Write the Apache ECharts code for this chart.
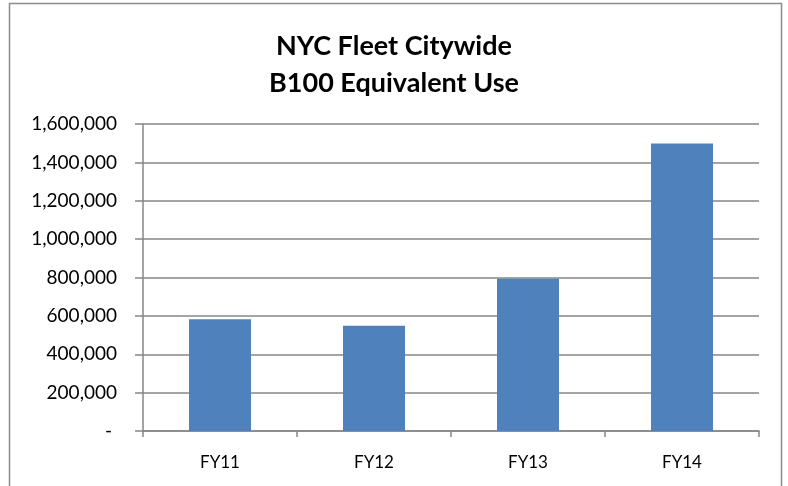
<!DOCTYPE html>
<html>
<head>
    <meta charset="utf-8">
    <title>NYC Fleet Citywide</title>
    <script src="https://cdn.jsdelivr.net/npm/echarts@6/dist/echarts.min.js"></script>
    <style>
        html, body { margin: 0; padding: 0; background: #fff; }
        #chart { width: 788px; height: 486px; }
    </style>
</head>
<body>
<div id="chart"></div>
<script>
    // data
    var years = ['FY11', 'FY12', 'FY13', 'FY14'];
    var b100Use = [583000, 548000, 793000, 1499000];
    var yTicks = [0, 200000, 400000, 600000, 800000, 1000000, 1200000, 1400000, 1600000];

    var myChart = echarts.init(document.getElementById('chart'));

    function fmt(v) {
        if (v === 0) return '- ';
        return v.toString().replace(/\B(?=(\d{3})+(?!\d))/g, ',');
    }

    var option = {
        backgroundColor: '#fff',
        animation: false,
        graphic: [{
            type: 'rect',
            shape: { x: 9.5, y: 3.5, width: 772, height: 500 },
            style: { fill: 'none', stroke: '#8c8c8c', lineWidth: 1.5 },
            silent: true
        }],
        title: {
            text: 'NYC Fleet Citywide\nB100 Equivalent Use',
            left: 'center',
            top: 23,
            textStyle: {
                fontFamily: 'Lato',
                fontWeight: 'bold',
                fontSize: 27,
                lineHeight: 37,
                color: '#000'
            }
        },
        grid: { left: 143, right: 29, top: 124, bottom: 55 },
        xAxis: {
            type: 'category',
            data: years,
            axisLine: { lineStyle: { color: '#868686', width: 1.5 } },
            axisTick: { show: true, length: 6, lineStyle: { color: '#868686', width: 1.5 } },
            axisLabel: { color: '#000', fontFamily: 'Lato', fontSize: 17, margin: 23 }
        },
        yAxis: {
            type: 'value',
            min: yTicks[0],
            max: yTicks[yTicks.length - 1],
            interval: yTicks[1] - yTicks[0],
            axisLine: { show: true, lineStyle: { color: '#868686', width: 1.5 } },
            axisTick: { show: true, length: 8, lineStyle: { color: '#868686', width: 1.5 } },
            splitLine: { lineStyle: { color: '#868686', width: 1.5 } },
            axisLabel: { color: '#000', fontFamily: 'Lato', fontSize: 19, margin: 26, formatter: fmt }
        },
        series: [{
            type: 'bar',
            data: b100Use,
            barWidth: 62,
            itemStyle: { color: '#4f81bd' }
        }]
    };

    myChart.setOption(option);
</script>
</body>
</html>
